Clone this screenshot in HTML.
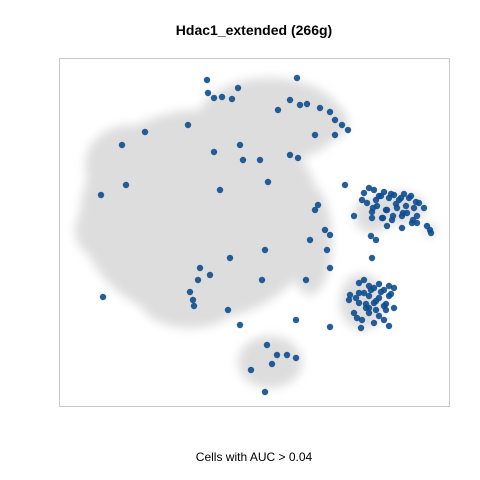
<!DOCTYPE html>
<html><head><meta charset="utf-8"><style>
body{margin:0;background:#fff;font-family:"Liberation Sans",sans-serif}
svg{display:block}
</style></head><body>
<svg id="c" width="480" height="480">
<defs><filter id="bl" x="-20%" y="-20%" width="140%" height="140%"><feGaussianBlur stdDeviation="5"/></filter></defs>
<rect width="480" height="480" fill="#fff"/>
<text x="254" y="35" text-anchor="middle" font-size="14" font-weight="bold">Hdac1_extended (266g)</text>
<g id="bg" filter="url(#bl)" fill="#dddddd">
<ellipse cx="200" cy="215" rx="120" ry="105"/>
<ellipse cx="270" cy="120" rx="72" ry="42"/>
<ellipse cx="130" cy="165" rx="45" ry="40"/>
<ellipse cx="110" cy="230" rx="35" ry="32"/>
<ellipse cx="190" cy="300" rx="50" ry="28"/>
<ellipse cx="270" cy="362" rx="32" ry="26"/>
<ellipse cx="310" cy="240" rx="22" ry="55"/>
<ellipse cx="372" cy="215" rx="18" ry="18"/>
<ellipse cx="398" cy="208" rx="28" ry="16"/>
<ellipse cx="362" cy="302" rx="22" ry="28"/>
<ellipse cx="330" cy="122" rx="18" ry="18"/>
<ellipse cx="430" cy="230" rx="7" ry="6"/>
</g>
<rect x="59.5" y="58.5" width="390" height="348" fill="none" stroke="#c8c8c8"/>
<g id="pts"></g>
<text x="254" y="461" text-anchor="middle" font-size="12">Cells with AUC &gt; 0.04</text>
</svg>
<script>
const xs=[148,149,155,163,173,179,238,231,219,241,248,261,271,276,283,289,276,256,231,239,201,209,181,184,129,86,63,67,42,155,161,259,256,266,271,268,271,251,247,237,206,203,171,141,139,134,135,44,169,181,271,291,303,286,303,313,317,313,208,218,228,237,206,213,192,151,131,
305,310,315,320,325,330,335,340,345,350,355,360,365,308,318,328,338,348,358,323,333,343,353,313,328,343,358,368,372,371,
312,322,332,342,352,317,327,337,347,357,314,324,334,344,354,
295,300,305,310,315,320,325,330,335,300,310,320,330,290,305,315,325,335,300,310,320,295,310,325,298,315,330,
302,312,322,332,297,307,317,327,307,317,327];
const ys=[22,35,40,39,41,30,20,42,52,47,46,50,54,62,67,72,77,77,97,100,102,124,87,102,67,74,87,127,137,94,132,147,152,172,177,192,210,182,222,262,192,222,200,210,222,242,248,239,252,267,269,237,262,127,142,154,182,200,287,297,297,300,334,306,312,217,234,
135,130,132,138,134,140,137,142,136,140,150,145,150,145,148,152,150,155,158,160,162,158,165,160,168,170,165,168,175,172,178,
138,136,140,138,142,152,146,148,144,150,160,158,155,162,158,
225,222,228,230,226,232,228,230,235,238,240,238,242,235,245,248,250,245,255,258,255,250,262,260,265,268,270,
232,234,236,240,246,243,246,250,252,252,258];
const sx=v=>59+v, sy=v=>58+v;
const g=document.getElementById('pts');
for(let i=0;i<xs.length;i++){
 const c=document.createElementNS('http://www.w3.org/2000/svg','circle');
 c.setAttribute('cx',sx(xs[i]));c.setAttribute('cy',sy(ys[i]));c.setAttribute('r',3.2);
 c.setAttribute('fill','#0e4c8e');c.setAttribute('fill-opacity',0.9);
 
 
 g.appendChild(c);
}
</script>
</body></html>
